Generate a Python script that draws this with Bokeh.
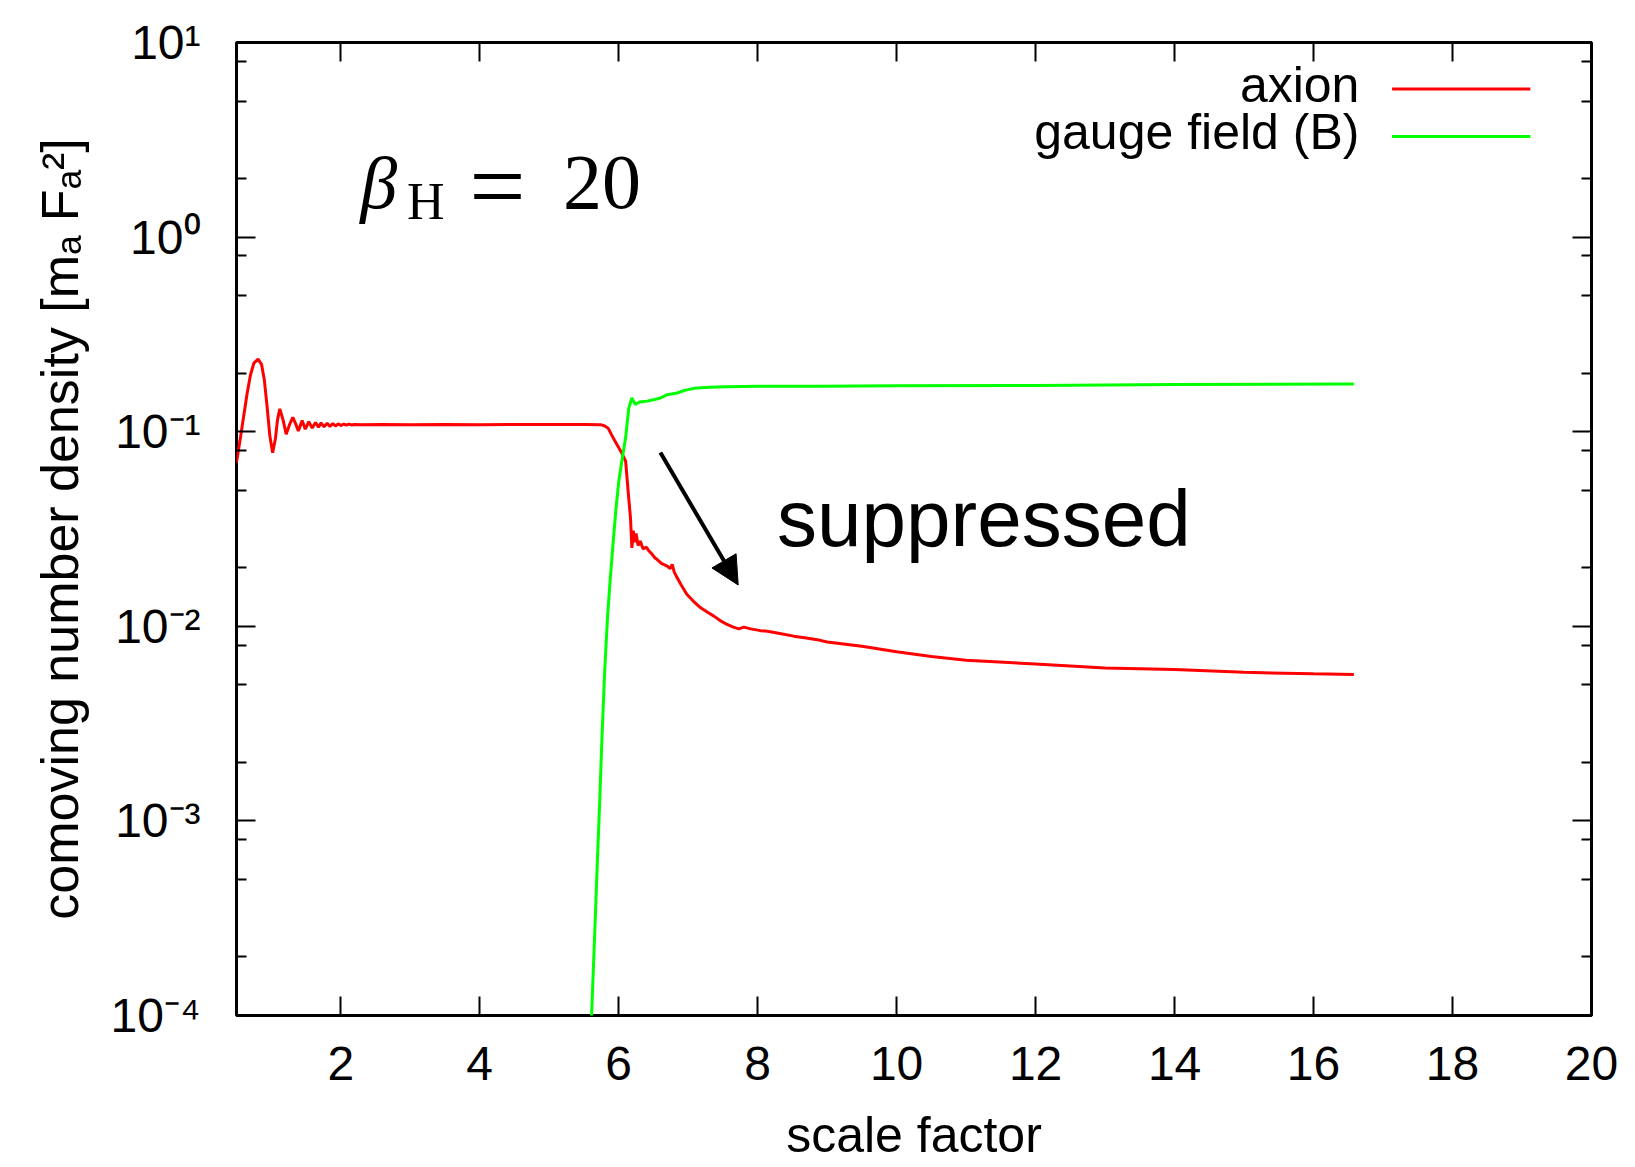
from bokeh.plotting import figure
from bokeh.models import (Range1d, FixedTicker, LinearAxis, LogAxis, Label,
                          Arrow, NormalHead, ColumnDataSource)
from bokeh.embed import file_html
from bokeh.resources import INLINE

# ---------------- data ----------------
axion_x = [0.50, 0.55, 0.60, 0.65, 0.70, 0.75, 0.81, 0.86, 0.90, 0.94, 0.98,
           1.02, 1.06, 1.09, 1.123, 1.17, 1.215, 1.26, 1.31, 1.35, 1.39,
           1.445, 1.49, 1.54, 1.59, 1.637, 1.68, 1.718, 1.76, 1.805, 1.845,
           1.886, 1.925, 1.963, 2.00, 2.044, 2.08, 2.12, 2.16, 2.20, 2.30,
           2.60, 3.00, 3.50, 4.00, 4.50, 5.00, 5.50, 5.74,
           5.80, 5.85, 5.90, 5.95, 6.00, 6.05, 6.10, 6.14, 6.17, 6.19,
           6.21, 6.23, 6.25, 6.28, 6.31, 6.35, 6.40, 6.43, 6.48, 6.52, 6.55,
           6.62, 6.70, 6.74, 6.77, 6.80, 6.84, 6.90, 6.98, 7.08, 7.18, 7.28,
           7.37, 7.46, 7.56, 7.65, 7.73, 7.80, 7.90, 8.04, 8.14, 8.30, 8.52,
           8.70, 8.90, 9.00, 9.50, 10.0, 10.5, 11.0, 12.0, 13.0, 14.0, 15.0,
           16.0, 16.58]
axion_y = [0.0695, 0.090, 0.118, 0.155, 0.195, 0.225, 0.236, 0.222, 0.185,
           0.135, 0.095, 0.078, 0.092, 0.115, 0.131, 0.115, 0.097, 0.108,
           0.1186, 0.110, 0.101, 0.114, 0.103, 0.1125, 0.1045, 0.1115,
           0.1055, 0.111, 0.106, 0.1105, 0.1065, 0.110, 0.107, 0.1098,
           0.1075, 0.1095, 0.108, 0.1093, 0.1082, 0.109, 0.1085,
           0.1088, 0.1086, 0.1088, 0.1087, 0.1088, 0.1088, 0.1088, 0.1087,
           0.107, 0.104, 0.096, 0.089, 0.083, 0.077, 0.0706, 0.0477, 0.036,
           0.0253, 0.031, 0.027, 0.030, 0.026, 0.0274, 0.025, 0.0255, 0.0245,
           0.0235, 0.0225, 0.0221, 0.021, 0.0204, 0.0198, 0.0208, 0.019,
           0.0178, 0.0163, 0.0146, 0.0134, 0.01245, 0.0118, 0.01128, 0.0107,
           0.01022, 0.0099, 0.0097, 0.0099, 0.0097, 0.0095, 0.00944, 0.0092,
           0.0089, 0.0087, 0.00847, 0.0083, 0.0079, 0.0074, 0.0070, 0.0067,
           0.0064, 0.0061, 0.0060, 0.0058, 0.0057, 0.00566]

gauge_x = [5.595, 5.61, 5.655, 5.69, 5.727, 5.762, 5.80, 5.84, 5.88, 5.92,
           5.96, 6.00, 6.05, 6.10, 6.145, 6.19, 6.24, 6.30, 6.41,
           6.50, 6.60, 6.70, 6.84, 6.95, 7.08, 7.30, 7.56, 8.00, 8.90, 10.0,
           12.0, 14.0, 16.58]
gauge_y = [0.00009, 0.0001, 0.000263, 0.000575, 0.00126, 0.00282, 0.00603,
           0.0112, 0.0178, 0.0269, 0.0398, 0.055, 0.0724, 0.0933, 0.132,
           0.149, 0.138, 0.142, 0.1436, 0.146, 0.149, 0.155, 0.158,
           0.163, 0.167, 0.169, 0.170, 0.171, 0.171, 0.172, 0.173, 0.175,
           0.176]

series_names = ["axion", "gauge field (B)"]
series_colors = ["#ff0000", "#00ff00"]

x_ticks = [2, 4, 6, 8, 10, 12, 14, 16, 18, 20]
x_ticks_top = [2, 4, 6, 8, 10, 12, 14, 16, 18]
y_ticks = [1e-4, 1e-3, 1e-2, 1e-1, 1e0, 1e1]
y_tick_labels = ["10\u207b\u2074", "10\u207b\u00b3", "10\u207b\u00b2",
                 "10\u207b\u00b9", "10\u2070", "10\u00b9"]
y_minor_ticks = [2e-4, 5e-4, 8e-4, 2e-3, 5e-3, 8e-3, 2e-2, 5e-2, 8e-2,
                 0.2, 0.5, 0.8, 2.0, 5.0, 8.0]

FONT = "Liberation Sans"
TICK_FS = "48px"
LABEL_FS = "50px"

p = figure(width=1635, height=1167,
           x_range=Range1d(0.5, 20), y_range=Range1d(1e-4, 10),
           y_axis_type="log", output_backend="svg", toolbar_location=None,
           min_border_left=236, min_border_right=44,
           min_border_top=42, min_border_bottom=152)
p.background_fill_color = "white"
p.border_fill_color = "white"
p.xgrid.visible = False
p.ygrid.visible = False
p.outline_line_color = "black"
p.outline_line_width = 3


def style_axis(ax, minor=True):
    ax.axis_line_color = None
    ax.major_tick_in = 19
    ax.major_tick_out = 0
    ax.major_tick_line_width = 2
    ax.major_tick_line_color = "black"
    ax.minor_tick_in = 10 if minor else 0
    ax.minor_tick_out = 0
    ax.minor_tick_line_width = 2
    ax.minor_tick_line_color = "black"
    ax.major_label_text_font = FONT
    ax.major_label_text_font_size = TICK_FS
    ax.major_label_text_color = "black"
    ax.axis_label_text_font = FONT
    ax.axis_label_text_font_size = LABEL_FS
    ax.axis_label_text_font_style = "normal"
    ax.axis_label_text_color = "black"


xa = p.xaxis[0]
xa.ticker = FixedTicker(ticks=x_ticks, minor_ticks=[])
style_axis(xa, minor=False)
xa.axis_label = "scale factor"
xa.major_label_standoff = 31
xa.axis_label_standoff = 24

ya = p.yaxis[0]
ya.ticker = FixedTicker(ticks=y_ticks, minor_ticks=y_minor_ticks)
style_axis(ya)
ya.major_label_overrides = dict(zip(y_ticks, y_tick_labels))
ya.axis_label = "comoving number density [m\u2090 F\u2090\u00b2]"
ya.axis_label_text_font_size = "52px"
ya.major_label_standoff = 36
ya.axis_label_standoff = 18

top = LinearAxis(ticker=FixedTicker(ticks=x_ticks_top, minor_ticks=[]))
style_axis(top, minor=False)
top.major_label_overrides = {t: "" for t in x_ticks_top}
top.major_label_standoff = 0
p.add_layout(top, "above")

right = LogAxis(ticker=FixedTicker(ticks=y_ticks, minor_ticks=y_minor_ticks))
style_axis(right)
right.major_label_overrides = {t: "" for t in y_ticks}
right.major_label_standoff = 0
p.add_layout(right, "right")

src_a = ColumnDataSource(dict(x=axion_x, y=axion_y))
src_g = ColumnDataSource(dict(x=gauge_x, y=gauge_y))
p.line("x", "y", source=src_a, line_color=series_colors[0], line_width=3)
p.line("x", "y", source=src_g, line_color=series_colors[1], line_width=3)

# ---- legend (gnuplot style: label, then line sample) ----
leg_y = [5.76, 3.29]
leg_text_y = [6.05, 3.45]
for name, col, yy, ty in zip(series_names, series_colors, leg_y, leg_text_y):
    p.add_layout(Label(x=16.66, y=ty, text=name, text_align="right",
                       text_baseline="middle", text_font=FONT,
                       text_font_size=LABEL_FS, text_color="black"))
    p.add_layout(Arrow(end=None, start=None, x_start=17.13, y_start=yy,
                       x_end=19.12, y_end=yy, line_color=col, line_width=3))

# ---- beta_H = 20 ----
p.add_layout(Label(x=2.28, y=1.906, text="\u03b2", text_font="Liberation Serif",
                   text_font_style="italic", text_font_size="74px",
                   text_baseline="alphabetic", text_color="black"))
p.add_layout(Label(x=2.955, y=1.52, text="H", text_font="Liberation Serif",
                   text_font_size="52px", text_baseline="alphabetic",
                   text_color="black"))
p.add_layout(Label(x=3.85, y=1.82, text="=", text_font="Liberation Serif",
                   text_font_size="100px", text_baseline="alphabetic",
                   text_color="black"))
p.add_layout(Label(x=5.2, y=1.906, text="20", text_font="Liberation Serif",
                   text_font_size="78px", text_baseline="alphabetic",
                   text_color="black"))

# ---- suppressed annotation ----
p.add_layout(Arrow(end=NormalHead(size=28, fill_color="black",
                                  line_color="black"),
                   x_start=6.60, y_start=0.0781, x_end=7.72, y_end=0.0163,
                   line_color="black", line_width=4))
p.add_layout(Label(x=8.28, y=0.0358, text="suppressed", text_font=FONT,
                   text_font_size="80px", text_baseline="alphabetic",
                   text_color="black"))

open("out.html", "w").write(file_html(p, INLINE))
